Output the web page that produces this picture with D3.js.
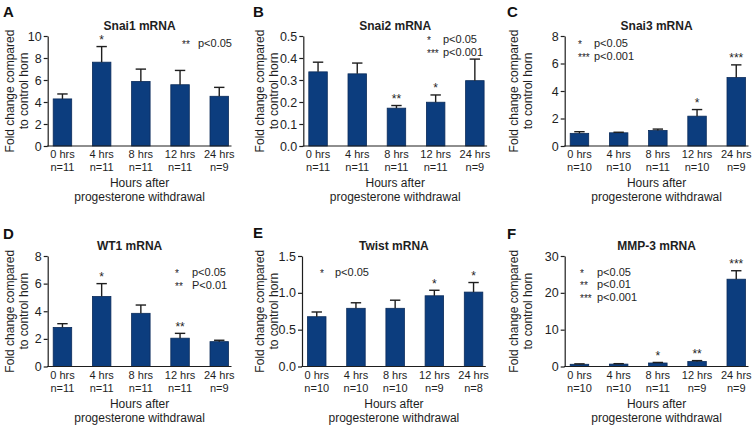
<!DOCTYPE html>
<html><head><meta charset="utf-8">
<script src="https://cdn.jsdelivr.net/npm/d3@7"></script>
<style>
html,body{margin:0;padding:0;background:#fff;}
svg{display:block;font-family:"Liberation Sans",Arial,sans-serif;}
</style></head>
<body>
<svg id="chart" width="756" height="428"></svg>
<script>
// ---------- DATA ----------
const categories = ["0 hrs","4 hrs","8 hrs","12 hrs","24 hrs"];

const titleA = "Snai1 mRNA";
const nA = ["n=11","n=11","n=11","n=11","n=9"];
const meanA = [4.28, 7.62, 5.87, 5.57, 4.52];
const semA  = [0.45, 1.42, 1.12, 1.30, 0.81];
const starsA = ["", "*", "", "", ""];
const ticksA = [0, 2, 4, 6, 8, 10];
const legendA = [["**", "p<0.05"]];

const titleB = "Snai2 mRNA";
const nB = ["n=11","n=11","n=11","n=11","n=9"];
const meanB = [0.337, 0.328, 0.172, 0.199, 0.297];
const semB  = [0.044, 0.049, 0.012, 0.033, 0.098];
const starsB = ["", "", "**", "*", ""];
const ticksB = [0.0, 0.1, 0.2, 0.3, 0.4, 0.5];
const legendB = [["*", "p<0.05"], ["***", "p<0.001"]];

const titleC = "Snai3 mRNA";
const nC = ["n=10","n=10","n=11","n=10","n=9"];
const meanC = [0.92, 0.96, 1.13, 2.17, 4.98];
const semC  = [0.12, 0.04, 0.10, 0.48, 0.92];
const starsC = ["", "", "", "*", "***"];
const ticksC = [0, 2, 4, 6, 8];
const legendC = [["*", "p<0.05"], ["***", "p<0.001"]];

const titleD = "WT1 mRNA";
const nD = ["n=11","n=11","n=11","n=11","n=9"];
const meanD = [2.83, 5.07, 3.85, 2.05, 1.80];
const semD  = [0.27, 0.93, 0.60, 0.35, 0.10];
const starsD = ["", "*", "", "**", ""];
const ticksD = [0, 2, 4, 6, 8];
const legendD = [["*", "p<0.05"], ["**", "P<0.01"]];

const titleE = "Twist mRNA";
const nE = ["n=10","n=10","n=10","n=9","n=8"];
const meanE = [0.676, 0.79, 0.79, 0.96, 1.01];
const semE  = [0.064, 0.075, 0.11, 0.075, 0.13];
const starsE = ["", "", "", "*", "*"];
const ticksE = [0.0, 0.5, 1.0, 1.5];
const legendE = [["*", "p<0.05"]];

const titleF = "MMP-3 mRNA";
const nF = ["n=10","n=10","n=11","n=9","n=9"];
const meanF = [0.60, 0.65, 0.95, 1.35, 23.7];
const semF  = [0.12, 0.12, 0.15, 0.25, 2.3];
const starsF = ["", "", "*", "**", "***"];
const ticksF = [0, 10, 20, 30];
const legendF = [["*", "p<0.05"], ["**", "p<0.01"], ["***", "p<0.001"]];

const xTitle = ["Hours after", "progesterone withdrawal"];
const yTitle = ["Fold change compared", "to control horn"];

// ---------- LAYOUT ----------
const panels = [
  {letter:"A", title:titleA, n:nA, mean:meanA, sem:semA, stars:starsA, ticks:ticksA, fmt:d3.format("d"), legend:legendA,
   left:0, x0:47.7, yTop:36, yBot:146, titleY:30, titleDx:0, letterY:17, legX:182, legPX:198, legY:47, legStep:12.7},
  {letter:"B", title:titleB, n:nB, mean:meanB, sem:semB, stars:starsB, ticks:ticksB, fmt:d3.format(".1f"), legend:legendB,
   left:250, x0:303.3, yTop:36, yBot:146, titleY:30, titleDx:0, letterY:17, legX:427, legPX:443, legY:43, legStep:12.7},
  {letter:"C", title:titleC, n:nC, mean:meanC, sem:semC, stars:starsC, ticks:ticksC, fmt:d3.format("d"), legend:legendC,
   left:504, x0:564.7, yTop:36, yBot:146, titleY:30, titleDx:0, letterY:17, legX:578, legPX:594, legY:47, legStep:13.3},
  {letter:"D", title:titleD, n:nD, mean:meanD, sem:semD, stars:starsD, ticks:ticksD, fmt:d3.format("d"), legend:legendD,
   left:0, x0:47.7, yTop:256, yBot:366.5, titleY:250, titleDx:-10, letterY:239, legX:175, legPX:192, legY:276, legStep:12.7},
  {letter:"E", title:titleE, n:nE, mean:meanE, sem:semE, stars:starsE, ticks:ticksE, fmt:d3.format(".1f"), legend:legendE,
   left:250, x0:302, yTop:256, yBot:366.5, titleY:250, titleDx:0, letterY:238, legX:320, legPX:335, legY:276, legStep:12.7},
  {letter:"F", title:titleF, n:nF, mean:meanF, sem:semF, stars:starsF, ticks:ticksF, fmt:d3.format("d"), legend:legendF,
   left:504, x0:564.7, yTop:256, yBot:366.5, titleY:250, titleDx:0, letterY:239, legX:580, legPX:597, legY:275.5, legStep:12.7}
];

const STEP = 39.2, BARW = 18.5, GAP = 5.5, TAIL = 3;
const barFill = "#0c3d7e", barStroke = "#0a2b5a", ink = "#1e1e1e";

const svg = d3.select("#chart");
svg.append("rect").attr("width",756).attr("height",428).attr("fill","#fff");

panels.forEach(p => {
  const g = svg.append("g");
  const pad = (STEP - BARW) / 2;
  const bStart = p.x0 + GAP - pad;
  const x = d3.scaleBand().domain(categories)
    .range([bStart, bStart + 5 * STEP])
    .paddingInner(1 - BARW / STEP).paddingOuter((1 - BARW / STEP) / 2);
  const xEnd = x(categories[4]) + x.bandwidth() + TAIL;
  const yMax = p.ticks[p.ticks.length - 1];
  const y = d3.scaleLinear().domain([0, yMax]).range([p.yBot, p.yTop]);
  const mid = (p.x0 + xEnd) / 2;

  // bars
  g.selectAll("rect.bar").data(categories).join("rect")
    .attr("x", d => x(d)).attr("width", x.bandwidth())
    .attr("y", (d,i) => y(p.mean[i])).attr("height", (d,i) => y(0) - y(p.mean[i]))
    .attr("fill", barFill).attr("stroke", barStroke).attr("stroke-width", 0.8);

  // error bars (upper only)
  categories.forEach((c,i) => {
    const cx = x(c) + x.bandwidth() / 2;
    const top = y(p.mean[i] + p.sem[i]);
    g.append("line").attr("x1",cx).attr("x2",cx).attr("y1",y(p.mean[i])).attr("y2",top)
      .attr("stroke",ink).attr("stroke-width",1.4);
    g.append("line").attr("x1",cx-5.2).attr("x2",cx+5.2).attr("y1",top).attr("y2",top)
      .attr("stroke",ink).attr("stroke-width",1.4);
    if (p.stars[i]) {
      g.append("text").attr("x",cx).attr("y",top - 2.5).attr("text-anchor","middle")
        .attr("font-size",12).attr("fill",ink).text(p.stars[i]);
    }
  });

  // y axis
  const ya = g.append("g").attr("transform",`translate(${p.x0},0)`)
    .call(d3.axisLeft(y).tickValues(p.ticks).tickFormat(p.fmt).tickSize(4).tickSizeOuter(0).tickPadding(2));
  ya.select(".domain").attr("stroke",ink).attr("stroke-width",1.2);
  ya.selectAll(".tick line").attr("stroke",ink).attr("stroke-width",1.2);
  ya.selectAll(".tick text").attr("font-size",12.5).attr("fill",ink)
    .attr("font-family","Liberation Sans, Arial, sans-serif");

  // x axis line
  g.append("line").attr("x1",p.x0 - 0.6).attr("x2",xEnd).attr("y1",p.yBot).attr("y2",p.yBot)
    .attr("stroke",ink).attr("stroke-width",1.2);

  // x tick labels (category + n)
  const xa = g.append("g").attr("transform",`translate(0,${p.yBot})`)
    .call(d3.axisBottom(x).tickSize(0).tickPadding(0));
  xa.select(".domain").remove();
  xa.selectAll(".tick text").each(function(d,i){
    const t = d3.select(this);
    t.text(null).attr("dy",null).attr("y",0).attr("font-size",11).attr("fill",ink)
      .attr("font-family","Liberation Sans, Arial, sans-serif");
    t.append("tspan").attr("x",0).attr("y",12.3).text(d);
    t.append("tspan").attr("x",0).attr("y",25.0).text(p.n[i]);
  });

  // x title
  const xt = g.append("text").attr("text-anchor","middle").attr("font-size",12).attr("fill",ink);
  xTitle.forEach((s,k) => {
    xt.append("tspan").attr("x",mid).attr("y",p.yBot + 41.3 + k*13.7).text(s);
  });

  // y title
  const ym = (p.yTop + p.yBot) / 2;
  yTitle.forEach((s,k) => {
    g.append("text").attr("transform",`translate(${p.left + 10 + k*13.6},${ym}) rotate(-90)`)
      .attr("dy","0.35em").attr("text-anchor","middle").attr("font-size",12).attr("fill",ink).text(s);
  });

  // chart title
  g.append("text").attr("x",mid + p.titleDx).attr("y",p.titleY).attr("text-anchor","middle")
    .attr("font-size",12).attr("font-weight","bold").attr("fill",ink).text(p.title);

  // panel letter
  g.append("text").attr("x",p.left + 3).attr("y",p.letterY).attr("font-size",15)
    .attr("font-weight","bold").attr("fill","#111").text(p.letter);

  // significance legend
  p.legend.forEach((L,k) => {
    const yy = p.legY + k * p.legStep;
    g.append("text").attr("x",p.legX).attr("y",yy + 1).attr("font-size",10).attr("fill",ink).text(L[0]);
    g.append("text").attr("x",p.legPX).attr("y",yy).attr("font-size",11).attr("fill",ink).text(L[1]);
  });
});
</script>
</body></html>
